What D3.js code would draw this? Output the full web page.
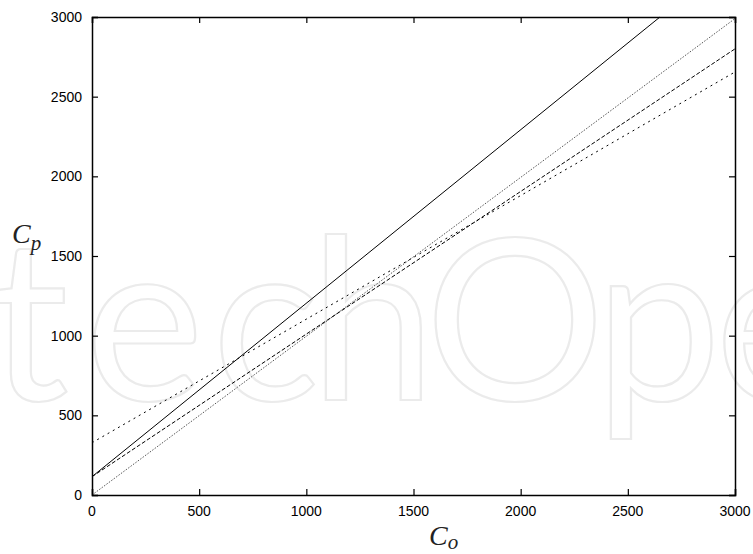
<!DOCTYPE html>
<html>
<head>
    <meta charset="utf-8">
    <title>Cp vs Co</title>
    <style>
        body { margin: 0; background: #fff; }
        svg { display: block; }
        .tick-label { font-family: 'Liberation Sans', Arial, sans-serif; font-size: 14px; fill: #000; }
        .axis-title { font-family: 'Liberation Serif', 'DejaVu Serif', serif; font-style: italic; fill: #222; }
    </style>
</head>
<body>
<div id="chart"></div>

<script src="https://d3js.org/d3.v7.min.js"></script>
<script type="text/javascript">

// tick values (both axes)
var xTicks = [0, 500, 1000, 1500, 2000, 2500, 3000];
var yTicks = [0, 500, 1000, 1500, 2000, 2500, 3000];

// the four straight lines (end points only)
var solidX  = [0, 2650],  solidY  = [115, 3000];
var dashX   = [0, 3000],  dashY   = [115, 2800];
var sdashX  = [0, 3000],  sdashY  = [328, 2655];
var dotX    = [0, 3000],  dotY    = [0, 2990];

// watermark letters
var wmLetters = ["t", "e", "c", "h", "O", "p", "e", "n"];
var wmX = [-12, 85, 212, 310, 425, 595, 715, 840];

var margin = {top: 17, right: 18, bottom: 59, left: 92},
    width  = 753 - margin.left - margin.right,
    height = 554 - margin.top - margin.bottom;

var x = d3.scaleLinear().domain([0, 3000]).range([0, width]);
var y = d3.scaleLinear().domain([0, 3000]).range([height, 0]);

var svg = d3.select("#chart")
    .append("svg")
    .attr("width", 753)
    .attr("height", 554);

// faint outlined watermark behind everything
svg.append("text")
    .attr("x", wmX.join(" "))
    .attr("y", 400)
    .style("font-family", "Lato, 'Open Sans', sans-serif")
    .style("font-size", "225px")
    .style("fill", "none")
    .style("stroke", "#ebebeb")
    .style("stroke-width", 2.2)
    .text(wmLetters.join(""));

var chart = svg.append("g")
    .attr("transform", "translate(" + margin.left + "," + margin.top + ")");

function zip(xs, ys) {
    return xs.map(function(v, i) { return {x: v, y: ys[i]}; });
}

var line = d3.line()
    .x(function(d) { return x(d.x); })
    .y(function(d) { return y(d.y); });

var series = [
    {data: zip(dotX, dotY),     dash: "1.5,1.5", color: "#555"},
    {data: zip(sdashX, sdashY), dash: "2,4",     color: "#000"},
    {data: zip(dashX, dashY),   dash: "4,2",     color: "#000"},
    {data: zip(solidX, solidY), dash: null,      color: "#000"}
];

series.forEach(function(s) {
    chart.append("path")
        .datum(s.data)
        .attr("d", line)
        .style("fill", "none")
        .style("stroke", s.color)
        .style("stroke-width", "1px")
        .style("stroke-dasharray", s.dash);
});

// axes: ticks inward, mirrored on top/right, labels drawn separately
var tickLen = 6;

chart.append("g")
    .attr("transform", "translate(0," + height + ")")
    .call(d3.axisBottom(x).tickValues(xTicks).tickSize(-tickLen).tickFormat(""));
chart.append("g")
    .call(d3.axisTop(x).tickValues(xTicks).tickSize(-tickLen).tickFormat(""));
chart.append("g")
    .call(d3.axisLeft(y).tickValues(yTicks).tickSize(-tickLen).tickFormat(""));
chart.append("g")
    .attr("transform", "translate(" + width + ",0)")
    .call(d3.axisRight(y).tickValues(yTicks).tickSize(-tickLen).tickFormat(""));

chart.selectAll(".domain").style("stroke", "#000").style("stroke-width", 1.5);
chart.selectAll(".tick line").style("stroke", "#000").style("stroke-width", 1.2);

chart.selectAll(".xlab")
    .data(xTicks)
    .enter().append("text")
    .attr("class", "tick-label")
    .attr("x", function(d) { return x(d); })
    .attr("y", height + 20.5)
    .attr("text-anchor", "middle")
    .text(function(d) { return d; });

chart.selectAll(".ylab")
    .data(yTicks)
    .enter().append("text")
    .attr("class", "tick-label")
    .attr("x", -10)
    .attr("y", function(d) { return y(d); })
    .attr("dy", "0.36em")
    .attr("text-anchor", "end")
    .text(function(d) { return d; });

// axis titles
var yt = svg.append("text")
    .attr("class", "axis-title")
    .attr("x", 12)
    .attr("y", 243)
    .style("font-size", "28px");
yt.append("tspan").text("C");
yt.append("tspan").attr("dy", 7).style("font-size", "21px").text("p");

var xt = svg.append("text")
    .attr("class", "axis-title")
    .attr("x", 429)
    .attr("y", 545)
    .style("font-size", "28px");
xt.append("tspan").text("C");
xt.append("tspan").attr("dy", 4).style("font-size", "21px").text("o");

</script>
</body>
</html>
